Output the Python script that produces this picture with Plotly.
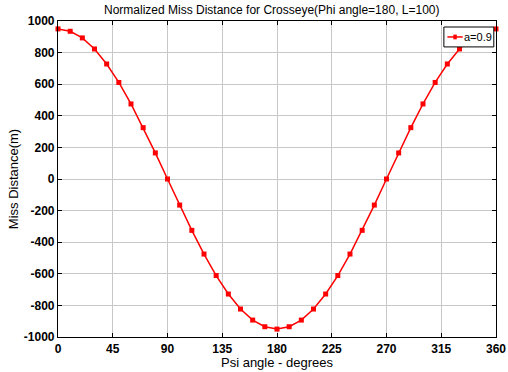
import plotly.graph_objects as go

psi = [0, 10, 20, 30, 40, 50, 60, 70, 80, 90, 100, 110, 120, 130, 140, 150, 160, 170, 180,
       190, 200, 210, 220, 230, 240, 250, 260, 270, 280, 290, 300, 310, 320, 330, 340, 350, 360]
miss = [950, 935, 893, 823, 728, 611, 475, 325, 165, 0, -165, -325, -475, -611, -728, -823, -893, -935, -950,
        -935, -893, -823, -728, -611, -475, -325, -165, 0, 165, 325, 475, 611, 728, 823, 893, 935, 950]
series_name = "a=0.9"
xticks = [0, 45, 90, 135, 180, 225, 270, 315, 360]
yticks = [-1000, -800, -600, -400, -200, 0, 200, 400, 600, 800, 1000]
yticktext = [str(v) for v in yticks]

RED = "#ff0000"
FONT = "Liberation Sans, Arial"

fig = go.Figure()
fig.add_trace(go.Scatter(
    x=psi, y=miss, mode="lines+markers", name=series_name,
    line=dict(color=RED, width=1.5),
    marker=dict(symbol="square", size=5, color=RED),
    cliponaxis=False, showlegend=False,
))

axis_common = dict(
    showline=True, linecolor="black", linewidth=1.2, mirror="ticks",
    ticks="inside", ticklen=4, tickcolor="black", automargin=False,
    showgrid=True, gridcolor="#c8c8c8", gridwidth=1, zeroline=False,
    tickfont=dict(family=FONT, size=12, color="black", weight="bold"),
)

fig.update_xaxes(range=[0, 360], tickvals=xticks, ticktext=[str(v) for v in xticks],
                 title=dict(text="Psi angle - degrees", font=dict(family=FONT, size=13, color="black"), standoff=2),
                 **axis_common)
fig.update_yaxes(range=[-1000, 1000], tickvals=yticks, ticktext=yticktext,
                 title=dict(text="Miss Distance(m)", font=dict(family=FONT, size=13, color="black"), standoff=2),
                 **axis_common)

# legend box (drawn in paper coords, top-right inside the axes)
lx0, lx1, ly0, ly1 = 0.881, 0.995, 0.918, 0.981
lyc = (ly0 + ly1) / 2
fig.add_shape(type="rect", xref="paper", yref="paper", x0=lx0, x1=lx1, y0=ly0, y1=ly1,
              line=dict(color="black", width=1), fillcolor="white", layer="above")
fig.add_shape(type="line", xref="paper", yref="paper", x0=0.889, x1=0.924, y0=lyc, y1=lyc,
              line=dict(color=RED, width=1.5), layer="above")
fig.add_shape(type="rect", xref="paper", yref="paper", x0=0.9025, x1=0.9105, y0=lyc - 0.0075, y1=lyc + 0.0075,
              line=dict(color=RED, width=0), fillcolor=RED, layer="above")
fig.add_annotation(xref="paper", yref="paper", x=0.925, y=lyc, xanchor="left", yanchor="middle",
                   text=series_name, showarrow=False, borderpad=0,
                   font=dict(family=FONT, size=11, color="black"))

fig.update_layout(
    width=508, height=372,
    margin=dict(l=58, r=12, t=21, b=35),
    paper_bgcolor="white", plot_bgcolor="white",
    title=dict(text="Normalized Miss Distance for Crosseye(Phi angle=180, L=100)",
               font=dict(family=FONT, size=12, color="black"),
               x=0.535, xanchor="center", y=0.985, yanchor="top"),
    showlegend=False,
)

fig.write_html("out.html", config={"displayModeBar": False},
               post_script="document.body.style.margin='0';document.body.style.overflow='hidden';")
